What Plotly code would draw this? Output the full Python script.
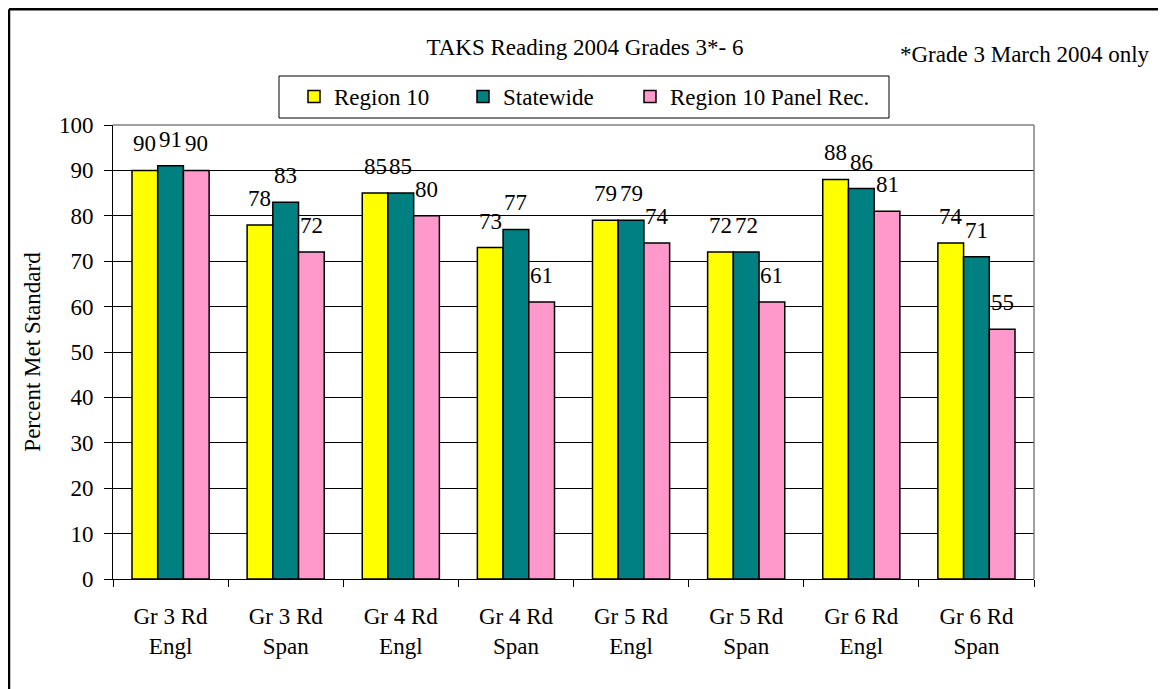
import plotly.graph_objects as go

categories = ["Gr 3 Rd<br>Engl", "Gr 3 Rd<br>Span", "Gr 4 Rd<br>Engl", "Gr 4 Rd<br>Span",
              "Gr 5 Rd<br>Engl", "Gr 5 Rd<br>Span", "Gr 6 Rd<br>Engl", "Gr 6 Rd<br>Span"]
region10 = [90, 78, 85, 73, 79, 72, 88, 74]
statewide = [91, 83, 85, 77, 79, 72, 86, 71]
panel_rec = [90, 72, 80, 61, 74, 61, 81, 55]
series_names = ["Region 10", "Statewide", "Region 10 Panel Rec."]
series_colors = ["#FFFF00", "#008080", "#FF99CC"]
legend_widths = [124, 122, 215]
y_ticks = [0, 10, 20, 30, 40, 50, 60, 70, 80, 90, 100]

FONT = "Liberation Serif, Times New Roman, serif"
FS = 23
W, H = 1166, 689
ML, MR, MT, MB = 105, 140, 117, 118
PW = W - ML - MR
PH = H - MT - MB
BARGAP = 0.33


def px_x(fx):
    return (fx - ML) / PW


def px_y(fy):
    return (H - MB - fy) / PH


fig = go.Figure()
all_series = [region10, statewide, panel_rec]
for name, vals, col, lw in zip(series_names, all_series, series_colors, legend_widths):
    fig.add_trace(go.Bar(
        x=categories, y=vals, name=name, legendwidth=lw,
        marker=dict(color=col, line=dict(color="black", width=1.5)),
    ))

# data labels above each bar (category serial-number coordinates)
bw = (1 - BARGAP) / 3
annotations = []
for i, vals in enumerate(all_series):
    for j, v in enumerate(vals):
        annotations.append(dict(
            x=j + (i - 1) * bw, y=v, xref="x", yref="y", text=str(v),
            showarrow=False, yanchor="bottom", xanchor="center", yshift=12,
            font=dict(family=FONT, size=FS, color="black"),
        ))

annotations.append(dict(
    x=px_x(1144), y=px_y(46), xref="paper", yref="paper",
    xanchor="right", yanchor="middle",
    text="*Grade 3 March 2004 only", showarrow=False,
    font=dict(family=FONT, size=FS, color="black"),
))

shapes = [
    # legend frame
    dict(type="rect", xref="paper", yref="paper",
         x0=px_x(271), x1=px_x(881), y0=px_y(110), y1=px_y(68),
         line=dict(color="black", width=1), fillcolor="rgba(0,0,0,0)", layer="above"),
    # plot-area frame (top and right, grey)
    dict(type="line", xref="paper", yref="paper", x0=0, x1=1, y0=1, y1=1,
         line=dict(color="#808080", width=1.5), layer="above"),
    dict(type="line", xref="paper", yref="paper", x0=1, x1=1, y0=0, y1=1,
         line=dict(color="#808080", width=1.5), layer="above"),
    # outer chart border (left and top)
    dict(type="line", xref="paper", yref="paper",
         x0=px_x(1), x1=px_x(1), y0=px_y(H + 20), y1=px_y(1.25),
         line=dict(color="black", width=2.5), layer="above"),
    dict(type="line", xref="paper", yref="paper",
         x0=px_x(1), x1=px_x(W + 20), y0=px_y(1.25), y1=px_y(1.25),
         line=dict(color="black", width=2.5), layer="above"),
]

fig.update_layout(
    width=W, height=H,
    margin=dict(l=ML, r=MR, t=MT, b=MB, autoexpand=False),
    paper_bgcolor="white", plot_bgcolor="white",
    barmode="group", bargap=BARGAP, bargroupgap=0,
    font=dict(family=FONT, size=FS, color="black"),
    title=dict(text="TAKS Reading 2004 Grades 3*- 6", x=577 / W, xanchor="center",
               xref="container", yref="container", y=1 - 39 / H, yanchor="middle",
               font=dict(family=FONT, size=FS, color="black")),
    legend=dict(orientation="h", x=px_x(286), xanchor="left",
                y=px_y(67), yanchor="top",
                borderwidth=0, bgcolor="rgba(0,0,0,0)",
                font=dict(family=FONT, size=FS, color="black")),
    annotations=annotations,
    shapes=shapes,
    xaxis=dict(type="category", showline=True, linecolor="black", linewidth=1,
               ticks="outside", ticklen=7, tickcolor="black", tickson="boundaries",
               showgrid=False, ticklabelstandoff=16,
               tickfont=dict(family=FONT, size=FS, color="black")),
    yaxis=dict(range=[0, 100], tickvals=y_ticks, showline=True, linecolor="black",
               linewidth=1, ticks="outside", ticklen=8, tickcolor="black",
               showgrid=True, gridcolor="black", gridwidth=1, zeroline=False,
               ticklabelstandoff=6,
               tickfont=dict(family=FONT, size=FS, color="black"),
               title=dict(text="Percent Met Standard", standoff=11,
                          font=dict(family=FONT, size=FS, color="black"))),
)

fig.write_html("out.html")
